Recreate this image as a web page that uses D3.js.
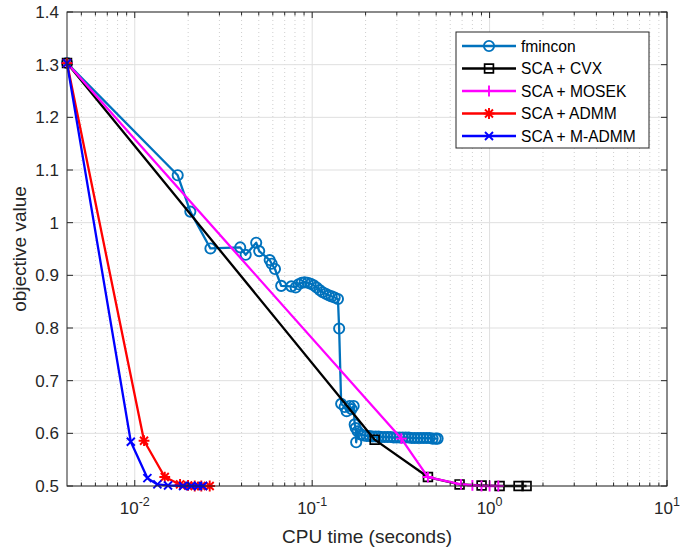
<!DOCTYPE html>
<html><head><meta charset="utf-8">
<script src="https://cdn.jsdelivr.net/npm/d3@7"></script>
<style>body{margin:0;background:#fff}svg{display:block}text{font-family:"Liberation Sans",Arial,Helvetica,sans-serif}</style>
</head><body><svg id="c" width="694" height="551"></svg>
<script>
// ---- data ----
const seriesNames = ["fmincon","SCA + CVX","SCA + MOSEK","SCA + ADMM","SCA + M-ADMM"];
const fminconT = [0.00415,0.01746,0.02057,0.02670,0.03930,0.04220,0.04836,0.05028,0.05761,0.0591,0.0617,0.0669,0.0763,
  0.0807,0.0839,0.0873,0.0907,0.0943,0.0981,0.1020,0.1060,0.1102,0.1146,0.1192,0.1239,0.1288,0.1339,0.1397,
  0.1419,0.1457,0.1524,0.1564,0.1627,0.1669,0.1713,0.1736,0.1758,0.1770,0.1805,0.1875,
  0.1950,0.2028,0.2108,0.2192,0.2279,0.2369,0.2463,0.2562,0.2663,0.2769,0.2879,0.2993,0.3112,0.3236,0.3364,
  0.3498,0.3636,0.3781,0.3931,0.4087,0.4249,0.4418,0.4592,0.4775,0.4964,0.5093];
const fminconV = [1.303,1.090,1.021,0.951,0.953,0.939,0.962,0.946,0.929,0.922,0.912,0.880,0.879,
  0.877,0.883,0.886,0.887,0.886,0.884,0.881,0.877,0.872,0.868,0.865,0.862,0.860,0.858,0.855,
  0.799,0.656,0.650,0.642,0.652,0.646,0.652,0.617,0.610,0.583,0.604,0.598,
  0.596,0.595,0.595,0.594,0.594,0.594,0.593,0.593,0.593,0.593,0.592,0.592,0.592,0.592,0.592,
  0.592,0.591,0.591,0.591,0.591,0.591,0.591,0.591,0.590,0.590,0.590];
const cvxT = [0.00415,0.2250,0.4492,0.6776,0.9013,1.1385,1.457,1.616];
const cvxV = [1.303,0.588,0.517,0.503,0.501,0.500,0.500,0.500];
const mosekT = [0.00415,0.318,0.449,0.69,0.80,0.90,1.00,1.12];
const mosekV = [1.303,0.590,0.517,0.503,0.501,0.500,0.500,0.500];
const admmT = [0.00415,0.01128,0.01476,0.0180,0.01997,0.02178,0.02372,0.02645];
const admmV = [1.303,0.586,0.517,0.503,0.501,0.500,0.500,0.500];
const madmmT = [0.00415,0.00950,0.01178,0.01341,0.01540,0.01871,0.02084,0.02273,0.02425];
const madmmV = [1.303,0.584,0.515,0.503,0.501,0.500,0.500,0.500,0.500];
const yTicks = [0.5,0.6,0.7,0.8,0.9,1,1.1,1.2,1.3,1.4];
const xTickExp = [-2,-1,0,1];
const xLabel = "CPU time (seconds)";
const yLabel = "objective value";

// ---- layout ----
const L=67,R=667,T=12,B=486;
const svg=d3.select("#c");
const x=d3.scaleLog().domain([0.00415,10]).range([L,R]);
const y=d3.scaleLinear().domain([0.5,1.4]).range([B,T]);
const axisC="#262626";

const g=svg.append("g");
const minor=[];
for(let e=-3;e<1;e++)for(let k=2;k<10;k++){const v=k*Math.pow(10,e);if(v>0.00415&&v<10)minor.push(v);}
g.selectAll(".mg").data(minor).join("line").attr("x1",d=>x(d)).attr("x2",d=>x(d)).attr("y1",T).attr("y2",B)
 .attr("stroke","#cfcfcf").attr("stroke-width",1).attr("stroke-dasharray","1,3");
g.selectAll(".gx").data(xTickExp.map(e=>Math.pow(10,e))).join("line").attr("x1",d=>x(d)).attr("x2",d=>x(d)).attr("y1",T).attr("y2",B)
 .attr("stroke","#dfdfdf").attr("stroke-width",1);
g.selectAll(".gy").data(yTicks).join("line").attr("x1",L).attr("x2",R).attr("y1",d=>y(d)).attr("y2",d=>y(d))
 .attr("stroke","#dfdfdf").attr("stroke-width",1);

const series=[
 {T:fminconT,V:fminconV,c:"#0072BD",m:"o"},
 {T:cvxT,V:cvxV,c:"#000000",m:"s"},
 {T:mosekT,V:mosekV,c:"#FF00FF",m:"+"},
 {T:admmT,V:admmV,c:"#FF0000",m:"*"},
 {T:madmmT,V:madmmV,c:"#0000FF",m:"x"}
];
function mpath(m){
  const s=4.4,p=5.4,q=4.0;
  if(m==="s")return `M${-s},${-s}H${s}V${s}H${-s}Z`;
  if(m==="+")return `M${-p},0H${p}M0,${-p}V${p}`;
  if(m==="x")return `M${-q},${-q}L${q},${q}M${-q},${q}L${q},${-q}`;
  if(m==="*")return `M${-p},0H${p}M0,${-p}V${p}M${-q},${-q}L${q},${q}M${-q},${q}L${q},${-q}`;
}
function drawMarker(sel,m,c){
  if(m==="o")sel.append("circle").attr("r",5.1).attr("fill","none").attr("stroke",c).attr("stroke-width",1.9);
  else sel.append("path").attr("d",mpath(m)).attr("fill","none").attr("stroke",c).attr("stroke-width",m==="s"?1.7:1.9);
}
const line=d3.line().x(d=>x(d[0])).y(d=>y(d[1]));
series.forEach(s=>{
  const pts=s.T.map((t,i)=>[t,s.V[i]]);
  const sg=svg.append("g");
  sg.append("path").attr("d",line(pts)).attr("fill","none").attr("stroke",s.c).attr("stroke-width",2.3).attr("stroke-linejoin","round");
  pts.forEach(p=>{const mg=sg.append("g").attr("transform",`translate(${x(p[0])},${y(p[1])})`);drawMarker(mg,s.m,s.c);});
});

svg.append("rect").attr("x",L).attr("y",T).attr("width",R-L).attr("height",B-T).attr("fill","none").attr("stroke",axisC).attr("stroke-width",1);
const tl=6,tlm=3.5;
xTickExp.forEach(e=>{const px=x(Math.pow(10,e));
  svg.append("line").attr("x1",px).attr("x2",px).attr("y1",B).attr("y2",B-tl).attr("stroke",axisC);
  svg.append("line").attr("x1",px).attr("x2",px).attr("y1",T).attr("y2",T+tl).attr("stroke",axisC);
  const t=svg.append("text").attr("x",px).attr("y",B+28).attr("text-anchor","middle").attr("font-size",17).attr("fill",axisC);
  t.append("tspan").text("10");
  t.append("tspan").attr("dy",-8).attr("font-size",12.5).text(e);
});
minor.forEach(v=>{const px=x(v);
  svg.append("line").attr("x1",px).attr("x2",px).attr("y1",B).attr("y2",B-tlm).attr("stroke",axisC);
  svg.append("line").attr("x1",px).attr("x2",px).attr("y1",T).attr("y2",T+tlm).attr("stroke",axisC);
});
yTicks.forEach(v=>{const py=y(v);
  svg.append("line").attr("x1",L).attr("x2",L+tl).attr("y1",py).attr("y2",py).attr("stroke",axisC);
  svg.append("line").attr("x1",R).attr("x2",R-tl).attr("y1",py).attr("y2",py).attr("stroke",axisC);
  svg.append("text").attr("x",L-8).attr("y",py+6).attr("text-anchor","end").attr("font-size",17).attr("fill",axisC).text(d3.format("~g")(v));
});
svg.append("text").attr("x",(L+R)/2).attr("y",543).attr("text-anchor","middle").attr("font-size",19).attr("fill",axisC).text(xLabel);
svg.append("text").attr("transform",`translate(26,${(T+B)/2}) rotate(-90)`).attr("text-anchor","middle").attr("font-size",19).attr("fill",axisC).text(yLabel);

const lg=svg.append("g");
lg.append("rect").attr("x",456).attr("y",32).attr("width",193).attr("height",116).attr("fill","#fff").attr("stroke",axisC).attr("stroke-width",1);
series.forEach((s,i)=>{const yy=46+i*22.5;
  lg.append("line").attr("x1",462).attr("x2",516).attr("y1",yy).attr("y2",yy).attr("stroke",s.c).attr("stroke-width",2.3);
  drawMarker(lg.append("g").attr("transform",`translate(489,${yy})`),s.m,s.c);
  lg.append("text").attr("x",521).attr("y",yy+5.5).attr("font-size",15.6).attr("fill","#000").text(seriesNames[i]);
});
</script></body></html>
